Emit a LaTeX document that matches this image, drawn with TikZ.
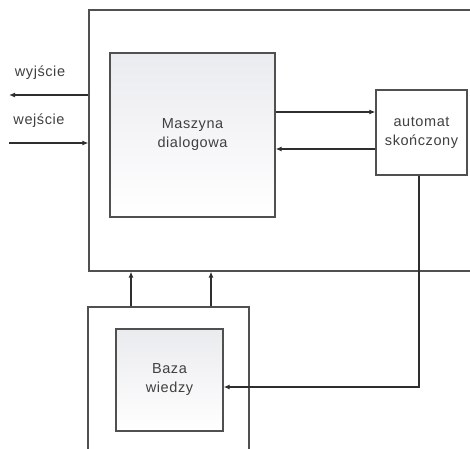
\documentclass[tikz,border=0pt]{standalone}
\usepackage{fontspec}
\setmainfont{Liberation Sans}[LetterSpace=4]
\usetikzlibrary{arrows.meta}
\definecolor{linegray}{HTML}{2E2E2E}
\definecolor{boxgray}{HTML}{505050}
\definecolor{shade}{HTML}{EAEBEE}
\begin{document}
\begin{tikzpicture}[x=1pt,y=-1pt,
  font=\fontsize{14.5}{19}\selectfont,
  frame/.style={draw=boxgray,line width=1.2pt,inner sep=0pt},
  block/.style={frame,top color=shade,bottom color=white,align=center,text=black!75},
  arr/.style={draw=linegray,line width=1.2pt,-{Latex[length=6pt,width=5pt]}}]
\clip (0,0) rectangle (470,448);
\node[frame,minimum width=391,minimum height=261] (sys) at (284.5,140.5) {};
\node[frame,minimum width=161,minimum height=151] (wiedza) at (168.5,382.5) {};
\node[block,minimum width=165,minimum height=164] (maszyna) at (192.5,135) {Maszyna\\dialogowa};
\node[frame,fill=white,minimum width=91,minimum height=85,align=center,text=black!75] (automat) at (421.5,132.5) {automat\\skończony};
\node[block,minimum width=107,minimum height=102] (baza) at (169.5,380) {Baza\\wiedzy};
\node[text=black!75] (wy) at (40,73) {wyjście};
\node[text=black!75] (we) at (39,121) {wejście};
% wejscie / wyjscie
\coordinate (wyend) at (9,95);
\coordinate (westart) at (9,143);
\draw[arr] (sys.west |- wyend) -- (wyend);
\draw[arr] (westart) -- (sys.west |- westart);
% maszyna <-> automat
\coordinate (m1) at ([yshift=23pt]maszyna.east);
\coordinate (m2) at ([yshift=-14pt]maszyna.east);
\draw[arr] (m1) -- (m1 -| automat.west);
\draw[arr] (m2 -| automat.west) -- (m2);
% baza wiedzy
\draw[arr] ([xshift=-2.5pt]automat.south) |- ([yshift=-7pt]baza.east);
\coordinate (u1) at (131,0);
\coordinate (u2) at (211,0);
\draw[arr] (wiedza.north -| u1) -- (sys.south -| u1);
\draw[arr] (wiedza.north -| u2) -- (sys.south -| u2);
\end{tikzpicture}
\end{document}
